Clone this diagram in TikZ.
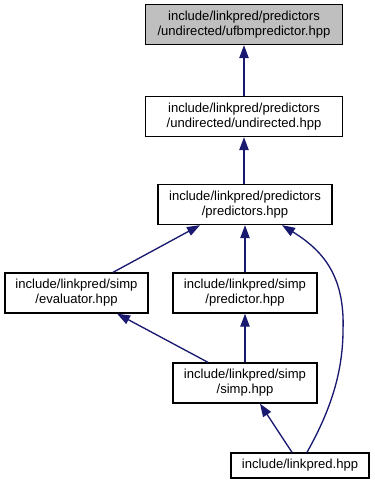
\documentclass[tikz,border=0pt]{standalone}
\usepackage{fontspec}
\setmainfont{Liberation Sans}
\usetikzlibrary{arrows.meta}
\usetikzlibrary{positioning}
\definecolor{edgeblue}{RGB}{25,25,112}
\tikzset{
    file/.style={
           rectangle,
           draw=black, line width=1pt,
           fill=white,
           inner sep=2pt,
           align=center,
           minimum height=30pt,
           font=\fontsize{9.8}{11.25}\selectfont,
           },
}
\tikzset{
    current/.style={
           file,
           fill=black!25,
           },
}
\tikzset{
    dep/.style={
           draw=edgeblue, line width=1pt,
           -{Triangle[length=9.75pt,width=7pt]},
           },
}

\begin{document}
\begin{tikzpicture}[x=0.75pt,y=-0.75pt]
\useasboundingbox (0,0) rectangle (374,484);
\node[current,minimum width=147.75pt] (ufbm) at (244,24.5) {include/linkpred/predictors\\/undirected/ufbmpredictor.hpp};
\node[file,minimum width=147.75pt] (undirected) at (244,116.5) {include/linkpred/predictors\\/undirected/undirected.hpp};
\node[file,minimum width=130.5pt] (predictors) at (245,204.5) {include/linkpred/predictors\\/predictors.hpp};
\node[file,minimum width=107.25pt] (evaluator) at (76.5,293) {include/linkpred/simp\\/evaluator.hpp};
\node[file,minimum width=108pt] (predictor) at (245,293) {include/linkpred/simp\\/predictor.hpp};
\node[file,minimum width=108pt] (simp) at (245,383) {include/linkpred/simp\\/simp.hpp};
\node[file,minimum width=103.5pt,minimum height=18.75pt] (linkpred) at (300,465.5) {include/linkpred.hpp};
\coordinate (bend) at (343,330);
\draw[dep] (undirected.north) -- (ufbm.south);
\draw[dep] (undirected.south |- predictors.north) -- (undirected.south);
\draw[dep] ([xshift=27.4pt]evaluator.north) -- ([xshift=-33.75pt]predictors.south);
\draw[dep] (predictor.north) -- (predictors.south);
\draw[dep] ([xshift=5.25pt]linkpred.north) .. controls (325,420) and (343,380) .. (bend)
           .. controls (345,275) and (322,250) .. ([xshift=27.75pt]predictors.south);
\draw[dep] ([xshift=-27.75pt]simp.north) -- ([xshift=30.4pt]evaluator.south);
\draw[dep] (simp.north) -- (predictor.south);
\draw[dep] ([xshift=-6pt]linkpred.north) -- ([xshift=11.25pt]simp.south);
\end{tikzpicture}
\end{document}
